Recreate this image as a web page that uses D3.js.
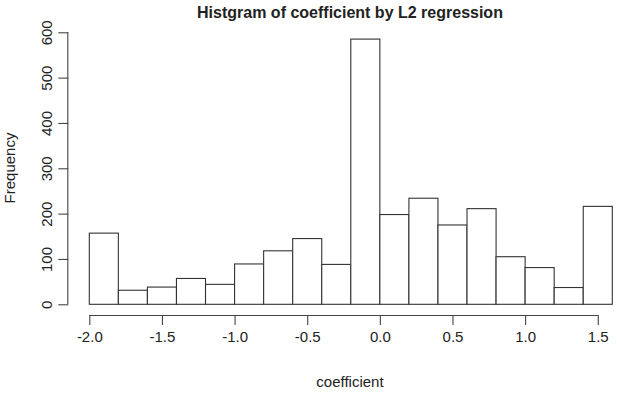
<!DOCTYPE html>
<html>
<head>
<meta charset="utf-8">
<script src="https://cdn.jsdelivr.net/npm/d3@7"></script>
<style>
  body { margin: 0; background: #fff; }
  text { font-family: "Liberation Sans", Arial, sans-serif; fill: #222; }
</style>
</head>
<body>
<svg width="617" height="397" class="chart"></svg>
<script>
// histogram bins (lower edge, upper edge) and counts
var binStarts = [-2.0, -1.8, -1.6, -1.4, -1.2, -1.0, -0.8, -0.6, -0.4, -0.2, 0.0, 0.2, 0.4, 0.6, 0.8, 1.0, 1.2, 1.4];
var binEnds   = [-1.8, -1.6, -1.4, -1.2, -1.0, -0.8, -0.6, -0.4, -0.2, 0.0, 0.2, 0.4, 0.6, 0.8, 1.0, 1.2, 1.4, 1.6];
var counts    = [157, 31, 38, 57, 44, 89, 118, 145, 88, 585, 198, 234, 175, 211, 105, 81, 37, 216];
var xTicks = [-2.0, -1.5, -1.0, -0.5, 0.0, 0.5, 1.0, 1.5];
var yTicks = [0, 100, 200, 300, 400, 500, 600];

var svg = d3.select(".chart");

var x = d3.scaleLinear().domain([-2.0, 1.6]).range([89.3, 612.3]);
var y = d3.scaleLinear().domain([0, 600]).range([304.3, 32.3]);

var data = binStarts.map(function(d, i) {
  return { x0: d, x1: binEnds[i], n: counts[i] };
});

// bars
svg.selectAll(".bar")
  .data(data)
  .enter().append("rect")
  .attr("class", "bar")
  .attr("x", function(d) { return x(d.x0); })
  .attr("width", function(d) { return x(d.x1) - x(d.x0); })
  .attr("y", function(d) { return y(d.n); })
  .attr("height", function(d) { return y(0) - y(d.n); })
  .attr("fill", "#fff")
  .attr("stroke", "#333")
  .attr("stroke-width", 1.1);

// x axis (R style, offset below the bars), plain hyphen for minus
var xAxis = svg.append("g")
  .attr("transform", "translate(0,315)")
  .call(d3.axisBottom(x).tickValues(xTicks).tickSize(10).tickPadding(6)
    .tickFormat(function(d) { return d.toFixed(1); }));
xAxis.select(".domain").attr("d", "M" + x(-2.0) + ",0.5H" + x(1.5));
xAxis.selectAll("line, path").attr("stroke", "#444").attr("stroke-width", 1.1);
xAxis.selectAll("text").attr("font-size", 15).style("font-family", "Liberation Sans, Arial, sans-serif").attr("fill", "#222");

// y axis
var yAxis = svg.append("g")
  .attr("transform", "translate(68.3,0)")
  .call(d3.axisLeft(y).tickValues(yTicks).tickSize(10));
yAxis.select(".domain").attr("d", "M-0.5," + y(0) + "V" + y(600));
yAxis.selectAll("line, path").attr("stroke", "#444").attr("stroke-width", 1.1);
yAxis.selectAll("text")
  .attr("font-size", 15)
  .style("font-family", "Liberation Sans, Arial, sans-serif")
  .attr("fill", "#222")
  .attr("x", null).attr("dy", null)
  .attr("text-anchor", "middle")
  .attr("transform", "translate(-21.5,0) rotate(-90) translate(0,5)");

// title
svg.append("text")
  .attr("x", 350)
  .attr("y", 18)
  .attr("text-anchor", "middle")
  .attr("font-size", 16)
  .attr("font-weight", "bold")
  .text("Histgram of coefficient by L2 regression");

// axis labels
svg.append("text")
  .attr("x", 350)
  .attr("y", 387)
  .attr("text-anchor", "middle")
  .attr("font-size", 15)
  .text("coefficient");

svg.append("text")
  .attr("transform", "translate(15,168) rotate(-90)")
  .attr("text-anchor", "middle")
  .attr("font-size", 15)
  .text("Frequency");
</script>
</body>
</html>
